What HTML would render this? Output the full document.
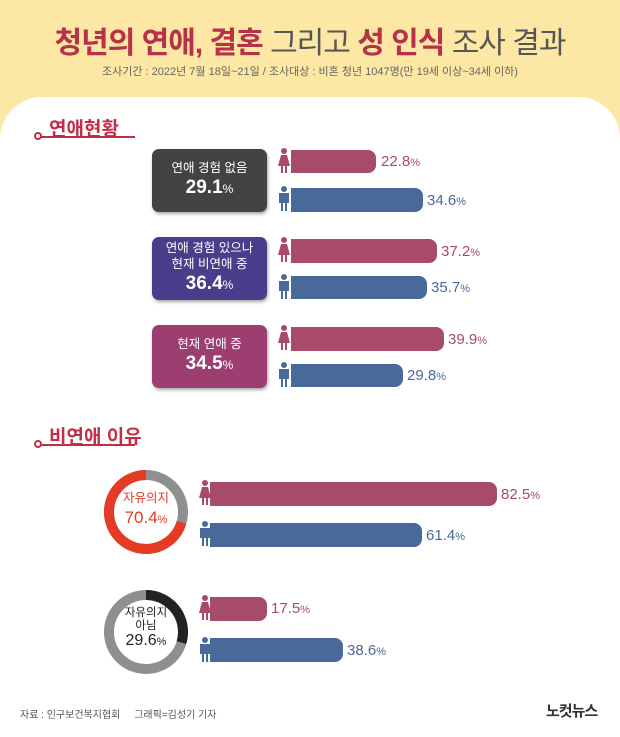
<!DOCTYPE html>
<html><head><meta charset="utf-8"><style>
*{margin:0;padding:0;box-sizing:border-box}
body{width:620px;height:728px;overflow:hidden;background:#fde7a4;font-family:"Liberation Sans","Noto Sans CJK KR",sans-serif;position:relative}
.abs{position:absolute}
.panel{left:0;top:97px;width:620px;height:640px;background:#fff;border-radius:42px 42px 0 0}
.t{left:0;width:620px;text-align:center;white-space:nowrap}
.sec{color:#c22e48;font-weight:bold;font-size:19px}
.line{height:2px;background:#c22e48}
.dot{width:8px;height:8px;border:2px solid #c22e48;border-radius:50%;background:#fff}
.box{left:152px;width:115px;border-radius:7px;color:#fff;text-align:center;box-shadow:1px 2px 3px rgba(0,0,0,.35);display:flex;flex-direction:column;justify-content:center;align-items:center;line-height:1.25}
.box .s{font-size:12.5px}
.box .b{font-size:19px;font-weight:bold}
.box .b small{font-size:12px;font-weight:normal}
.f{background:#a84b69;border-radius:0 8px 8px 0}
.m{background:#4a699b;border-radius:0 8px 8px 0}
.lb{font-size:15px;white-space:nowrap}
.lb small{font-size:11px}
.fc{color:#a84b69}.mc{color:#4a699b}
</style></head><body>
<div class="abs panel"></div>
<div class="abs t" style="top:18px;font-size:30px;letter-spacing:-1px;color:#555">
<b style="color:#b5324a">청년의 연애, 결혼</b> 그리고 <b style="color:#b5324a">성 인식</b> 조사 결과</div>
<div class="abs t" style="top:63px;font-size:11px;color:#666">조사기간 : 2022년 7월 18일~21일 / 조사대상 : 비혼 청년 1047명(만 19세 이상~34세 이하)</div>

<div class="abs sec" style="left:49px;top:114px">연애현황</div>
<div class="abs line" style="left:38px;top:136px;width:97px"></div>
<div class="abs dot" style="left:34px;top:132px"></div>

<div class="abs box" style="top:149px;height:63px;background:#434343"><div class="s">연애 경험 없음</div><div class="b">29.1<small>%</small></div></div>
<div class="abs box" style="top:237px;height:63px;background:#4b3d8c"><div class="s">연애 경험 있으나<br>현재 비연애 중</div><div class="b">36.4<small>%</small></div></div>
<div class="abs box" style="top:325px;height:63px;background:#9c3f70"><div class="s">현재 연애 중</div><div class="b">34.5<small>%</small></div></div>

<svg class="abs" style="left:0;top:0" width="620" height="728">
<defs>
<g id="fe"><circle cx="7" cy="3" r="3"/><path d="M4 7h6l3 11h-3v7h-2v-7h-2v7h-2v-7h-3z"/></g>
<g id="ma"><circle cx="7" cy="3" r="3"/><path d="M2 7h10v10h-2v8h-2v-8h-2v8h-2v-8h-2z"/></g>
</defs>
<g fill="#a84b69"><use href="#fe" x="277" y="148"/><use href="#fe" x="277" y="237"/><use href="#fe" x="277" y="325"/><use href="#fe" x="198" y="480"/><use href="#fe" x="198" y="595"/></g>
<g fill="#4a699b"><use href="#ma" x="277" y="186"/><use href="#ma" x="277" y="274"/><use href="#ma" x="277" y="362"/><use href="#ma" x="198" y="521"/><use href="#ma" x="198" y="637"/></g>
<g fill="none" stroke-width="10">
<circle cx="146" cy="512" r="37" stroke="#8f8f8f"/>
<circle cx="146" cy="512" r="37" stroke="#e53a24" stroke-dasharray="163.7 232.5" style="transform-origin:146px 512px;transform:rotate(-90deg) scale(1,-1)"/>
<circle cx="146" cy="632" r="37" stroke="#8f8f8f"/>
<circle cx="146" cy="632" r="37" stroke="#222" stroke-dasharray="68.8 232.5" style="transform-origin:146px 632px;transform:rotate(-90deg)"/>
</g>
</svg>

<div class="abs f" style="left:291px;top:150px;width:85px;height:23px"></div><div class="abs lb fc" style="left:381px;top:153px">22.8<small>%</small></div>
<div class="abs m" style="left:291px;top:188px;width:132px;height:24px"></div><div class="abs lb mc" style="left:427px;top:192px">34.6<small>%</small></div>
<div class="abs f" style="left:291px;top:239px;width:146px;height:24px"></div><div class="abs lb fc" style="left:441px;top:243px">37.2<small>%</small></div>
<div class="abs m" style="left:291px;top:276px;width:136px;height:23px"></div><div class="abs lb mc" style="left:431px;top:279px">35.7<small>%</small></div>
<div class="abs f" style="left:291px;top:327px;width:153px;height:24px"></div><div class="abs lb fc" style="left:448px;top:331px">39.9<small>%</small></div>
<div class="abs m" style="left:291px;top:364px;width:112px;height:23px"></div><div class="abs lb mc" style="left:407px;top:367px">29.8<small>%</small></div>

<div class="abs sec" style="left:49px;top:422px">비연애 이유</div>
<div class="abs line" style="left:38px;top:444px;width:97px"></div>
<div class="abs dot" style="left:34px;top:440px"></div>

<div class="abs" style="left:106px;top:491px;width:80px;text-align:center;color:#e03a24;line-height:1.25"><div style="font-size:12.5px">자유의지</div><div style="font-size:17px">70.4<small style="font-size:11px">%</small></div></div>
<div class="abs" style="left:106px;top:607px;width:80px;text-align:center;color:#222;line-height:1.1"><div style="font-size:11.5px">자유의지<br>아님</div><div style="font-size:16px">29.6<small style="font-size:11px">%</small></div></div>

<div class="abs f" style="left:210px;top:482px;width:287px;height:24px"></div><div class="abs lb fc" style="left:501px;top:486px">82.5<small>%</small></div>
<div class="abs m" style="left:210px;top:523px;width:212px;height:24px"></div><div class="abs lb mc" style="left:426px;top:527px">61.4<small>%</small></div>
<div class="abs f" style="left:210px;top:597px;width:57px;height:24px"></div><div class="abs lb fc" style="left:271px;top:600px">17.5<small>%</small></div>
<div class="abs m" style="left:210px;top:638px;width:133px;height:24px"></div><div class="abs lb mc" style="left:347px;top:642px">38.6<small>%</small></div>

<div class="abs" style="left:20px;top:706px;font-size:10px;color:#555">자료 : 인구보건복지협회 &nbsp;&nbsp;&nbsp;&nbsp;그래픽=김성기 기자</div>
<div class="abs" style="left:546px;top:700px;font-size:15px;font-weight:bold;color:#333;letter-spacing:-1px">노컷뉴스</div>
</body></html>
